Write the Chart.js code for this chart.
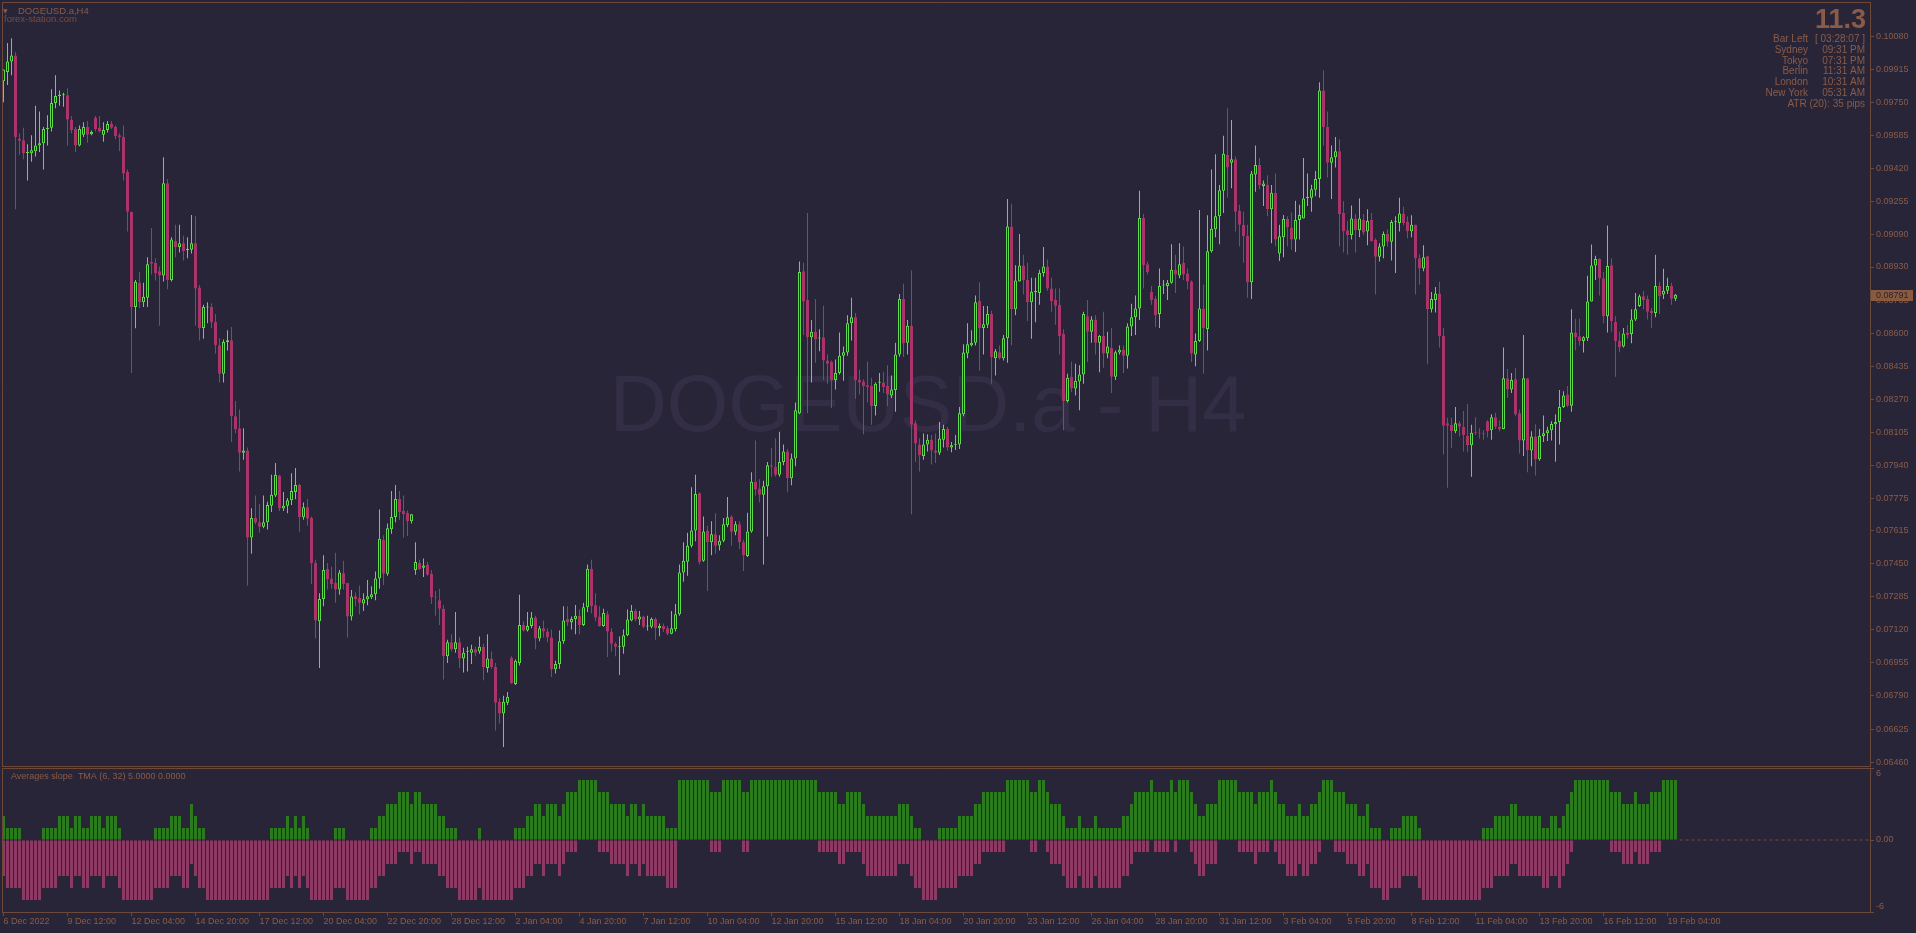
<!DOCTYPE html>
<html><head><meta charset="utf-8">
<script src="https://cdn.jsdelivr.net/npm/chart.js@4/dist/chart.umd.min.js"></script>
<style>
html,body{margin:0;padding:0;background:#292538;overflow:hidden;width:1916px;height:933px}
#main{position:absolute;left:0;top:0;width:1916px;height:767px}
#sub{position:absolute;left:0;top:767px;width:1916px;height:166px}
</style></head><body>
<div id="main"><canvas id="c1"></canvas></div>
<div id="sub"><canvas id="c2"></canvas></div>
<script>
// ---- data (DOGEUSD.a H4) ----
const open = [0.09857,0.09903,0.09955,0.09985,0.09571,0.09562,0.09499,0.09497,0.09508,0.09536,
0.09548,0.09618,0.09625,0.09748,0.09783,0.09787,0.09787,0.09664,0.09618,0.09536,
0.09590,0.09629,0.09592,0.09676,0.09625,0.09590,0.09613,0.09643,0.09629,0.09587,
0.09578,0.09404,0.09206,0.08730,0.08851,0.08754,0.08777,0.08956,0.08951,0.08909,
0.08888,0.09348,0.08865,0.09060,0.09030,0.09049,0.09014,0.09016,0.09049,0.08828,
0.08626,0.08728,0.08730,0.08656,0.08540,0.08398,0.08556,0.08565,0.08185,0.08126,
0.08003,0.08015,0.07581,0.07678,0.07657,0.07634,0.07657,0.07739,0.07790,0.07890,
0.07725,0.07739,0.07766,0.07808,0.07843,0.07681,0.07732,0.07678,0.07453,0.07163,
0.07274,0.07423,0.07376,0.07353,0.07321,0.07402,0.07353,0.07186,0.07288,0.07279,
0.07251,0.07272,0.07283,0.07297,0.07376,0.07569,0.07400,0.07622,0.07683,0.07773,
0.07713,0.07704,0.07662,0.07418,0.07453,0.07430,0.07446,0.07400,0.07285,0.07267,
0.07225,0.06988,0.07058,0.07023,0.07058,0.06977,0.07010,0.07005,0.07023,0.07012,
0.07035,0.06930,0.06977,0.06935,0.06761,0.06703,0.06756,0.06981,0.06849,0.06954,
0.07144,0.07116,0.07139,0.07181,0.07077,0.07128,0.07111,0.07081,0.06923,0.06949,
0.07063,0.07174,0.07158,0.07174,0.07190,0.07144,0.07232,0.07425,0.07242,0.07186,
0.07139,0.07197,0.07111,0.07051,0.07033,0.07035,0.07093,0.07167,0.07214,0.07172,
0.07186,0.07137,0.07135,0.07174,0.07128,0.07139,0.07128,0.07100,0.07123,0.07197,
0.07406,0.07460,0.07539,0.07615,0.07801,0.07465,0.07615,0.07557,0.07597,0.07541,
0.07564,0.07643,0.07685,0.07609,0.07646,0.07557,0.07488,0.07611,0.07859,0.07825,
0.07794,0.07836,0.07941,0.07934,0.07894,0.07957,0.08010,0.07876,0.07975,0.08201,
0.08909,0.08765,0.08579,0.08607,0.08573,0.08579,0.08463,0.08456,0.08366,0.08401,
0.08487,0.08503,0.08649,0.08679,0.08366,0.08359,0.08340,0.08336,0.08236,0.08352,
0.08354,0.08336,0.08289,0.08317,0.08494,0.08770,0.08552,0.08637,0.08150,0.08045,
0.07987,0.08045,0.08068,0.08015,0.08003,0.08068,0.08122,0.08029,0.08043,0.08045,
0.08196,0.08498,0.08540,0.08552,0.08761,0.08626,0.08642,0.08696,0.08475,0.08505,
0.08475,0.08575,0.09132,0.08719,0.08858,0.08937,0.08865,0.08754,0.08805,0.08800,
0.08900,0.08932,0.08823,0.08765,0.08742,0.08596,0.08261,0.08382,0.08324,0.08359,
0.08394,0.08684,0.08607,0.08668,0.08552,0.08586,0.08498,0.08526,0.08382,0.08503,
0.08519,0.08487,0.08633,0.08679,0.08723,0.09174,0.08944,0.08805,0.08770,0.08696,
0.08838,0.08835,0.08851,0.08916,0.08888,0.08951,0.08898,0.08858,0.08494,0.08561,
0.08723,0.08621,0.09009,0.09118,0.09183,0.09311,0.09490,0.09450,0.09467,0.09211,
0.09141,0.09086,0.08854,0.09392,0.09439,0.09334,0.09341,0.09218,0.09300,0.08997,
0.09079,0.09169,0.09125,0.09067,0.09165,0.09172,0.09274,0.09276,0.09316,0.09369,
0.09810,0.09629,0.09450,0.09478,0.09508,0.09200,0.09114,0.09090,0.09172,0.09114,
0.09165,0.09107,0.09165,0.09065,0.08981,0.09032,0.09095,0.09056,0.09153,0.09149,
0.09197,0.09155,0.09109,0.09141,0.08974,0.08923,0.08984,0.08719,0.08765,0.08798,
0.08586,0.08150,0.08143,0.08110,0.08150,0.08133,0.08087,0.08041,0.08105,0.08103,
0.08101,0.08161,0.08115,0.08180,0.08133,0.08122,0.08375,0.08319,0.08370,0.08201,
0.08064,0.08375,0.08015,0.08085,0.07971,0.08087,0.08101,0.08115,0.08145,0.08157,
0.08231,0.08294,0.08238,0.08603,0.08584,0.08561,0.08575,0.08758,0.08937,0.08970,
0.08874,0.08684,0.08939,0.08656,0.08561,0.08533,0.08603,0.08596,0.08668,0.08735,
0.08784,0.08770,0.08712,0.08700,0.08835,0.08793,0.08812,0.08835,0.08772];

const high = [0.09915,0.10047,0.10071,0.10001,0.09597,0.09625,0.09543,0.09587,0.09734,0.09706,
0.09629,0.09687,0.09817,0.09887,0.09810,0.09799,0.09822,0.09683,0.09629,0.09636,
0.09652,0.09659,0.09611,0.09683,0.09683,0.09652,0.09659,0.09659,0.09636,0.09597,
0.09636,0.09416,0.09206,0.08865,0.08905,0.08851,0.08979,0.09125,0.08974,0.08932,
0.09478,0.09369,0.09079,0.09141,0.09141,0.09086,0.09079,0.09190,0.09183,0.08840,
0.08742,0.08754,0.08749,0.08696,0.08575,0.08568,0.08614,0.08631,0.08261,0.08219,
0.08126,0.08029,0.07727,0.07790,0.07748,0.07790,0.07759,0.07894,0.07952,0.07894,
0.07808,0.07778,0.07901,0.07927,0.07848,0.07755,0.07773,0.07685,0.07469,0.07302,
0.07492,0.07453,0.07434,0.07504,0.07418,0.07465,0.07353,0.07318,0.07306,0.07341,
0.07302,0.07369,0.07337,0.07411,0.07720,0.07592,0.07650,0.07813,0.07843,0.07813,
0.07790,0.07715,0.07697,0.07557,0.07469,0.07476,0.07458,0.07418,0.07314,0.07325,
0.07244,0.07070,0.07098,0.07209,0.07081,0.07030,0.07035,0.07046,0.07035,0.07086,
0.07051,0.07098,0.07012,0.06954,0.06779,0.06791,0.06810,0.06988,0.06972,0.07295,
0.07163,0.07209,0.07209,0.07190,0.07139,0.07167,0.07128,0.07121,0.06965,0.07116,
0.07237,0.07237,0.07186,0.07244,0.07221,0.07255,0.07446,0.07469,0.07302,0.07237,
0.07225,0.07214,0.07128,0.07058,0.07086,0.07121,0.07221,0.07244,0.07225,0.07214,
0.07190,0.07190,0.07181,0.07181,0.07151,0.07151,0.07139,0.07214,0.07249,0.07446,
0.07557,0.07604,0.07831,0.07894,0.07806,0.07685,0.07639,0.07662,0.07701,0.07592,
0.07678,0.07783,0.07690,0.07662,0.07662,0.07569,0.07704,0.07906,0.08064,0.07871,
0.07864,0.07957,0.08027,0.08075,0.08108,0.08045,0.08022,0.07999,0.08254,0.08958,
0.08951,0.09200,0.08665,0.08770,0.08619,0.08737,0.08494,0.08463,0.08468,0.08603,
0.08533,0.08689,0.08777,0.08700,0.08417,0.08370,0.08459,0.08377,0.08354,0.08401,
0.08405,0.08440,0.08389,0.08552,0.08795,0.08847,0.08665,0.08912,0.08166,0.08075,
0.08099,0.08096,0.08092,0.08099,0.08157,0.08143,0.08133,0.08057,0.08092,0.08231,
0.08545,0.08649,0.08614,0.08788,0.08854,0.08735,0.08735,0.08712,0.08521,0.08538,
0.08591,0.09269,0.09246,0.08939,0.09095,0.08991,0.08951,0.08877,0.08877,0.08916,
0.09030,0.08967,0.08877,0.08823,0.08823,0.08619,0.08398,0.08459,0.08447,0.08440,
0.08707,0.08765,0.08684,0.08691,0.08591,0.08707,0.08607,0.08626,0.08514,0.08538,
0.08538,0.08649,0.08747,0.08788,0.09311,0.09195,0.08956,0.08835,0.08784,0.08923,
0.08865,0.08865,0.09044,0.08991,0.09049,0.09032,0.08923,0.08863,0.08598,0.09214,
0.08842,0.09188,0.09416,0.09492,0.09339,0.09585,0.09722,0.09664,0.09481,0.09241,
0.09206,0.09141,0.09409,0.09536,0.09474,0.09362,0.09388,0.09339,0.09397,0.09141,
0.09190,0.09183,0.09202,0.09260,0.09241,0.09474,0.09397,0.09341,0.09409,0.09852,
0.09910,0.09706,0.09536,0.09578,0.09567,0.09258,0.09160,0.09237,0.09195,0.09272,
0.09195,0.09218,0.09200,0.09074,0.09049,0.09107,0.09118,0.09165,0.09183,0.09276,
0.09230,0.09183,0.09188,0.09141,0.08993,0.09039,0.08986,0.08805,0.08830,0.08856,
0.08626,0.08178,0.08178,0.08231,0.08161,0.08212,0.08247,0.08143,0.08180,0.08126,
0.08115,0.08166,0.08196,0.08203,0.08166,0.08528,0.08421,0.08401,0.08426,0.08219,
0.08591,0.08375,0.08110,0.08145,0.08122,0.08189,0.08133,0.08161,0.08196,0.08317,
0.08310,0.08336,0.08719,0.08672,0.08672,0.08584,0.08886,0.09042,0.08986,0.08974,
0.08905,0.09137,0.08974,0.08684,0.08607,0.08626,0.08642,0.08719,0.08800,0.08793,
0.08812,0.08788,0.08726,0.08991,0.08854,0.08921,0.08877,0.08851,0.08795];

const low = [0.09752,0.09838,0.09887,0.09218,0.09490,0.09467,0.09362,0.09455,0.09481,0.09504,
0.09416,0.09536,0.09606,0.09722,0.09734,0.09729,0.09536,0.09597,0.09504,0.09532,
0.09578,0.09550,0.09587,0.09606,0.09601,0.09555,0.09601,0.09618,0.09567,0.09508,
0.09362,0.09107,0.08401,0.08624,0.08726,0.08730,0.08730,0.08893,0.08863,0.08637,
0.08858,0.08819,0.08858,0.08979,0.09002,0.08963,0.08974,0.08997,0.08637,0.08563,
0.08572,0.08649,0.08626,0.08498,0.08354,0.08354,0.08514,0.08057,0.08101,0.07910,
0.07968,0.07341,0.07499,0.07646,0.07604,0.07627,0.07620,0.07708,0.07783,0.07713,
0.07713,0.07701,0.07743,0.07771,0.07609,0.07669,0.07639,0.07348,0.07077,0.06930,
0.07237,0.07321,0.07325,0.07255,0.07295,0.07321,0.07081,0.07167,0.07237,0.07197,
0.07214,0.07242,0.07274,0.07267,0.07325,0.07344,0.07390,0.07599,0.07657,0.07669,
0.07581,0.07588,0.07650,0.07395,0.07418,0.07383,0.07390,0.07249,0.07190,0.07144,
0.06872,0.06954,0.07012,0.07005,0.06930,0.06907,0.06912,0.06949,0.06988,0.07000,
0.06868,0.06907,0.06926,0.06617,0.06652,0.06535,0.06745,0.06849,0.06844,0.06942,
0.07111,0.07111,0.07128,0.07023,0.07063,0.07081,0.07058,0.06884,0.06902,0.06926,
0.07051,0.07139,0.07121,0.07098,0.07098,0.07139,0.07209,0.07202,0.07163,0.07135,
0.07135,0.06984,0.07012,0.06988,0.06895,0.07000,0.07088,0.07163,0.07163,0.07144,
0.07128,0.07116,0.07128,0.07070,0.07088,0.07109,0.07093,0.07098,0.07111,0.07190,
0.07360,0.07390,0.07530,0.07562,0.07446,0.07460,0.07314,0.07492,0.07499,0.07516,
0.07557,0.07632,0.07541,0.07592,0.07523,0.07413,0.07483,0.07604,0.07790,0.07755,
0.07446,0.07585,0.07883,0.07883,0.07883,0.07941,0.07806,0.07841,0.07936,0.08196,
0.08591,0.08201,0.08354,0.08452,0.08510,0.08366,0.08347,0.08226,0.08319,0.08394,
0.08363,0.08487,0.08563,0.08273,0.08294,0.08096,0.08254,0.08143,0.08189,0.08308,
0.08301,0.08236,0.08277,0.08208,0.08482,0.08482,0.08494,0.07697,0.07957,0.07910,
0.07968,0.08010,0.07945,0.07952,0.07992,0.08029,0.08015,0.08006,0.08017,0.08022,
0.08185,0.08475,0.08533,0.08538,0.08412,0.08494,0.08626,0.08347,0.08389,0.08468,
0.08463,0.08452,0.08540,0.08689,0.08858,0.08793,0.08661,0.08572,0.08654,0.08742,
0.08881,0.08812,0.08707,0.08642,0.08494,0.08115,0.08254,0.08305,0.08289,0.08215,
0.08347,0.08456,0.08552,0.08494,0.08405,0.08428,0.08475,0.08301,0.08366,0.08494,
0.08401,0.08424,0.08586,0.08591,0.08665,0.08823,0.08893,0.08742,0.08631,0.08626,
0.08795,0.08765,0.08847,0.08800,0.08874,0.08865,0.08819,0.08456,0.08435,0.08556,
0.08398,0.08514,0.09002,0.09079,0.09044,0.09200,0.09276,0.09323,0.09107,0.09032,
0.08951,0.08777,0.08770,0.09306,0.09318,0.09234,0.09183,0.09049,0.09032,0.08960,
0.08979,0.09032,0.09016,0.09005,0.09067,0.09172,0.09234,0.09206,0.09283,0.09276,
0.09536,0.09376,0.09269,0.09427,0.09032,0.09002,0.08991,0.09067,0.09002,0.09079,
0.09090,0.09039,0.09056,0.08793,0.08958,0.08974,0.09032,0.08963,0.08900,0.09107,
0.09137,0.09074,0.09079,0.08793,0.08842,0.08909,0.08445,0.08703,0.08703,0.08528,
0.07994,0.07829,0.08027,0.08101,0.08085,0.08010,0.08006,0.07883,0.08092,0.08075,
0.08068,0.08080,0.08068,0.08122,0.08110,0.08120,0.08277,0.08301,0.08185,0.07999,
0.07987,0.07906,0.07936,0.07890,0.07964,0.08057,0.08062,0.08064,0.07959,0.08045,
0.08226,0.08231,0.08208,0.08514,0.08538,0.08503,0.08561,0.08758,0.08865,0.08788,
0.08649,0.08603,0.08607,0.08382,0.08505,0.08528,0.08572,0.08549,0.08661,0.08730,
0.08719,0.08668,0.08626,0.08679,0.08696,0.08770,0.08795,0.08742,0.08760];

const close = [0.09915,0.09955,0.09985,0.09578,0.09560,0.09497,0.09504,0.09513,0.09536,0.09548,
0.09618,0.09625,0.09748,0.09783,0.09790,0.09790,0.09666,0.09613,0.09536,0.09618,
0.09629,0.09590,0.09604,0.09618,0.09606,0.09613,0.09643,0.09625,0.09583,0.09578,
0.09397,0.09206,0.08730,0.08856,0.08754,0.08781,0.08944,0.08946,0.08900,0.08888,
0.09348,0.08865,0.09067,0.09028,0.09049,0.09009,0.09021,0.09049,0.08823,0.08626,
0.08730,0.08733,0.08656,0.08540,0.08398,0.08556,0.08565,0.08185,0.08120,0.08003,
0.08015,0.07581,0.07678,0.07655,0.07634,0.07657,0.07743,0.07794,0.07894,0.07725,
0.07739,0.07766,0.07813,0.07843,0.07681,0.07732,0.07674,0.07453,0.07167,0.07274,
0.07418,0.07372,0.07348,0.07321,0.07406,0.07348,0.07186,0.07286,0.07274,0.07255,
0.07272,0.07288,0.07297,0.07376,0.07574,0.07400,0.07627,0.07683,0.07773,0.07708,
0.07697,0.07662,0.07697,0.07458,0.07423,0.07441,0.07395,0.07283,0.07281,0.07225,
0.06988,0.07058,0.07023,0.07058,0.06977,0.07005,0.07014,0.07023,0.07005,0.07035,
0.06935,0.06977,0.06935,0.06756,0.06703,0.06761,0.06786,0.06854,0.06965,0.07144,
0.07116,0.07139,0.07181,0.07077,0.07128,0.07111,0.07081,0.06923,0.06949,0.07063,
0.07167,0.07156,0.07174,0.07190,0.07144,0.07232,0.07425,0.07237,0.07181,0.07139,
0.07204,0.07111,0.07051,0.07035,0.07037,0.07093,0.07172,0.07214,0.07174,0.07186,
0.07135,0.07141,0.07174,0.07128,0.07139,0.07123,0.07100,0.07128,0.07197,0.07406,
0.07465,0.07539,0.07615,0.07797,0.07458,0.07611,0.07557,0.07597,0.07539,0.07564,
0.07646,0.07681,0.07609,0.07646,0.07557,0.07492,0.07611,0.07859,0.07820,0.07794,
0.07836,0.07941,0.07934,0.07894,0.07957,0.08010,0.07876,0.07975,0.08215,0.08905,
0.08758,0.08579,0.08607,0.08568,0.08577,0.08463,0.08447,0.08366,0.08401,0.08487,
0.08505,0.08649,0.08679,0.08366,0.08354,0.08336,0.08331,0.08236,0.08347,0.08356,
0.08331,0.08294,0.08319,0.08494,0.08770,0.08549,0.08637,0.08143,0.08050,0.07992,
0.08045,0.08068,0.08015,0.08003,0.08075,0.08122,0.08029,0.08041,0.08047,0.08201,
0.08503,0.08545,0.08552,0.08754,0.08626,0.08644,0.08696,0.08480,0.08510,0.08475,
0.08575,0.09132,0.08719,0.08863,0.08937,0.08865,0.08754,0.08807,0.08809,0.08900,
0.08932,0.08823,0.08761,0.08737,0.08586,0.08261,0.08377,0.08324,0.08363,0.08394,
0.08696,0.08607,0.08668,0.08552,0.08586,0.08498,0.08533,0.08382,0.08505,0.08517,
0.08487,0.08633,0.08679,0.08723,0.09174,0.08939,0.08905,0.08765,0.08691,0.08835,
0.08842,0.08851,0.08916,0.08893,0.08944,0.08893,0.08858,0.08498,0.08561,0.08723,
0.08626,0.09009,0.09121,0.09183,0.09313,0.09495,0.09427,0.09467,0.09206,0.09141,
0.09083,0.08854,0.09397,0.09439,0.09339,0.09346,0.09218,0.09300,0.09067,0.09083,
0.09169,0.09130,0.09067,0.09165,0.09190,0.09272,0.09278,0.09318,0.09369,0.09810,
0.09629,0.09450,0.09478,0.09508,0.09195,0.09109,0.09090,0.09172,0.09114,0.09172,
0.09102,0.09160,0.09060,0.08981,0.09032,0.09095,0.09056,0.09155,0.09157,0.09197,
0.09149,0.09109,0.09141,0.08974,0.08923,0.08979,0.08719,0.08770,0.08798,0.08586,
0.08138,0.08138,0.08110,0.08150,0.08133,0.08092,0.08041,0.08103,0.08101,0.08099,
0.08096,0.08110,0.08180,0.08133,0.08122,0.08375,0.08319,0.08366,0.08196,0.08064,
0.08375,0.08017,0.08085,0.07971,0.08087,0.08101,0.08115,0.08147,0.08157,0.08231,
0.08289,0.08238,0.08603,0.08579,0.08561,0.08579,0.08758,0.08937,0.08970,0.08874,
0.08684,0.08935,0.08661,0.08561,0.08528,0.08598,0.08591,0.08668,0.08719,0.08784,
0.08765,0.08707,0.08700,0.08835,0.08784,0.08812,0.08835,0.08772,0.08791];

// "Averages slope TMA (6,32)" histogram: up (green) and down (pink) counts
const slopeUp = [2,1,1,1,1,0,0,0,0,0, 1,1,1,1,2,2,2,1,2,2, 1,1,2,2,2,1,2,2,2,1, 0,0,0,0,0,0,0,0,1,1,
1,1,2,2,2,1,1,3,2,1, 1,0,0,0,0,0,0,0,0,0, 0,0,0,0,0,0,0,1,1,1, 1,2,1,2,1,2,1,0,0,0,
0,0,0,1,1,1,0,0,0,0, 0,0,1,1,2,2,3,3,3,4, 4,4,3,4,4,3,3,3,3,2, 2,1,1,1,0,0,0,0,0,1,
0,0,0,0,0,0,0,0,1,1, 1,2,2,3,3,2,3,3,3,2, 3,4,4,4,5,5,5,5,5,4, 4,4,3,3,3,3,2,3,3,2,
3,2,2,2,2,2,1,1,1,5, 5,5,5,5,5,5,5,4,4,4, 5,5,5,5,5,4,4,5,5,5, 5,5,5,5,5,5,5,5,5,5,
5,5,5,5,4,4,4,4,4,3, 3,4,4,4,4,3,2,2,2,2, 2,2,2,2,3,3,3,2,1,1, 0,0,0,0,1,1,1,1,1,2,
2,2,2,3,3,4,4,4,4,4, 4,5,5,5,5,5,5,4,4,5, 5,4,3,3,3,2,1,1,1,2, 1,1,1,2,1,1,1,1,1,1,
2,2,3,4,4,4,4,5,4,4, 4,4,5,4,5,5,5,4,3,2, 2,3,3,3,5,5,5,5,5,4, 4,4,4,3,4,4,4,5,4,3,
3,2,2,2,3,2,2,3,3,4, 5,5,5,4,4,4,3,3,3,2, 2,3,1,1,1,0,0,1,1,1, 2,2,2,2,1,0,0,0,0,0,
0,0,0,0,0,0,0,0,0,0, 1,1,1,2,2,2,2,3,3,2, 2,2,2,2,2,1,1,2,2,1, 2,3,4,5,5,5,5,5,5,5,
5,5,4,4,4,3,3,3,4,3, 3,3,4,4,4,5,5,5,5];
const slopeDown = [-3,-4,-4,-4,-4,-5,-5,-5,-5,-5, -4,-4,-4,-4,-3,-3,-3,-4,-3,-3, -4,-4,-3,-3,-3,-4,-3,-3,-3,-4, -5,-5,-5,-5,-5,-5,-5,-5,-4,-4,
-4,-4,-3,-3,-3,-4,-4,-2,-3,-4, -4,-5,-5,-5,-5,-5,-5,-5,-5,-5, -5,-5,-5,-5,-5,-5,-5,-4,-4,-4, -4,-3,-4,-3,-4,-3,-4,-5,-5,-5,
-5,-5,-5,-4,-4,-4,-5,-5,-5,-5, -5,-5,-4,-4,-3,-3,-2,-2,-2,-1, -1,-1,-2,-1,-1,-2,-2,-2,-2,-3, -3,-4,-4,-4,-5,-5,-5,-5,-5,-4,
-5,-5,-5,-5,-5,-5,-5,-5,-4,-4, -4,-3,-3,-2,-2,-3,-2,-2,-2,-3, -2,-1,-1,-1,0,0,0,0,0,-1, -1,-1,-2,-2,-2,-2,-3,-2,-2,-3,
-2,-3,-3,-3,-3,-3,-4,-4,-4,0, 0,0,0,0,0,0,0,-1,-1,-1, 0,0,0,0,0,-1,-1,0,0,0, 0,0,0,0,0,0,0,0,0,0,
0,0,0,0,-1,-1,-1,-1,-1,-2, -2,-1,-1,-1,-1,-2,-3,-3,-3,-3, -3,-3,-3,-3,-2,-2,-2,-3,-4,-4, -5,-5,-5,-5,-4,-4,-4,-4,-4,-3,
-3,-3,-3,-2,-2,-1,-1,-1,-1,-1, -1,0,0,0,0,0,0,-1,-1,0, 0,-1,-2,-2,-2,-3,-4,-4,-4,-3, -4,-4,-4,-3,-4,-4,-4,-4,-4,-4,
-3,-3,-2,-1,-1,-1,-1,0,-1,-1, -1,-1,0,-1,0,0,0,-1,-2,-3, -3,-2,-2,-2,0,0,0,0,0,-1, -1,-1,-1,-2,-1,-1,-1,0,-1,-2,
-2,-3,-3,-3,-2,-3,-3,-2,-2,-1, 0,0,0,-1,-1,-1,-2,-2,-2,-3, -3,-2,-4,-4,-4,-5,-5,-4,-4,-4, -3,-3,-3,-3,-4,-5,-5,-5,-5,-5,
-5,-5,-5,-5,-5,-5,-5,-5,-5,-5, -4,-4,-4,-3,-3,-3,-3,-2,-2,-3, -3,-3,-3,-3,-3,-4,-4,-3,-3,-4, -3,-2,-1,0,0,0,0,0,0,0,
0,0,-1,-1,-1,-2,-2,-2,-1,-2, -2,-2,-1,-1,-1,0,0,0,0];

// time axis labels, one every 16 bars
const timeLabels = ['6 Dec 2022','9 Dec 12:00','12 Dec 04:00','14 Dec 20:00','17 Dec 12:00','20 Dec 04:00','22 Dec 20:00',
'28 Dec 12:00','2 Jan 04:00','4 Jan 20:00','7 Jan 12:00','10 Jan 04:00','12 Jan 20:00','15 Jan 12:00','18 Jan 04:00',
'20 Jan 20:00','23 Jan 12:00','26 Jan 04:00','28 Jan 20:00','31 Jan 12:00','3 Feb 04:00','5 Feb 20:00','8 Feb 12:00',
'11 Feb 04:00','13 Feb 20:00','16 Feb 12:00','19 Feb 04:00'];
const labelStep = 16;
const priceTicks = [0.10080,0.09915,0.09750,0.09585,0.09420,0.09255,0.09090,0.08930,0.08765,0.08600,0.08435,0.08270,
0.08105,0.07940,0.07775,0.07615,0.07450,0.07285,0.07120,0.06955,0.06790,0.06625,0.06460];
const slopeTicks = [6, 0, -6];
const slopeTickText = ['6', '0.00', '-6'];

// texts
const chartTitle = 'DOGEUSD.a,H4';
const chartSubtitle = 'forex-station.com';
const watermarkText = 'DOGEUSD.a - H4';
const spreadText = '11.3';
const infoLabels = ['Bar Left','Sydney','Tokyo','Berlin','London','New York'];
const infoValues = ['[ 03:28:07 ]','09:31 PM','07:31 PM','11:31 AM','10:31 AM','05:31 AM'];
const atrText = 'ATR (20): 35 pips';
const indicatorTitle = 'Averages slope  TMA (6, 32) 5.0000 0.0000';

// ---- style ----
const BG = '#292538', TXT = '#8a5c48', FRAME = '#6e4838', WATER = '#332e46';
const BULL = '#5edb4b', BEAR = '#aa346a', HUP = '#2b7a1e', HDN = '#8c3963';
const FONT = 'Liberation Sans';
Chart.defaults.font.family = FONT;
Chart.defaults.font.size = 9;
Chart.defaults.color = TXT;

const XMIN = -0.375, XMAX = XMIN + 1868 / 4;
const PPU = 20044; // px per price unit
const YMAX = 0.1008 + 34.5 / PPU, YMIN = YMAX - 764 / PPU;

const idx = close.map((_, i) => i);
const bull = i => close[i] >= open[i];

const mainDecor = {
  id: 'mainDecor',
  beforeDatasetsDraw(chart) {
    const ctx = chart.ctx;
    ctx.save();
    ctx.font = '79px "' + FONT + '"';
    ctx.fillStyle = WATER; ctx.textAlign = 'center'; ctx.textBaseline = 'middle';
    ctx.fillText(watermarkText, 928, 409);
    ctx.restore();
  },
  afterDraw(chart) {
    const ctx = chart.ctx, a = chart.chartArea;
    ctx.save();
    ctx.strokeStyle = FRAME; ctx.lineWidth = 1;
    ctx.beginPath();
    ctx.moveTo(2.5, a.bottom + 0.5); ctx.lineTo(2.5, 2.5); ctx.lineTo(a.right, 2.5);
    ctx.moveTo(2, a.bottom + 0.5); ctx.lineTo(a.right, a.bottom + 0.5);
    ctx.stroke();
    // title
    ctx.fillStyle = TXT; ctx.textBaseline = 'middle'; ctx.textAlign = 'left';
    ctx.font = '6px "DejaVu Sans"';
    ctx.fillText('\u25BC', 3, 11);
    ctx.font = '9.5px "' + FONT + '"';
    ctx.fillText(chartTitle, 18, 11);
    ctx.fillStyle = '#7a4b40';
    ctx.fillText(chartSubtitle, 4, 19);
    // info block
    ctx.fillStyle = TXT; ctx.textAlign = 'right';
    ctx.font = 'bold 27px "' + FONT + '"';
    ctx.textBaseline = 'alphabetic';
    ctx.fillText(spreadText, 1866, 28);
    ctx.textBaseline = 'middle';
    ctx.font = '10px "' + FONT + '"';
    const rows = [39, 50, 61, 71.7, 82.3, 93.3];
    infoLabels.forEach((t, k) => ctx.fillText(t, 1808, rows[k]));
    infoValues.forEach((t, k) => ctx.fillText(t, 1865, rows[k]));
    ctx.fillText(atrText, 1865, 104.5);
    // current price box
    const y = chart.scales.y.getPixelForValue(close[close.length - 1]);
    ctx.fillStyle = '#8a5a3e';
    ctx.fillRect(1871, Math.round(y) - 5, 42, 11);
    ctx.fillStyle = '#2b2330'; ctx.textAlign = 'left';
    ctx.font = '9px "' + FONT + '"';
    ctx.fillText(close[close.length - 1].toFixed(5), 1876, Math.round(y) + 0.5);
    ctx.restore();
  }
};

new Chart(document.getElementById('c1'), {
  type: 'bar',
  data: {
    datasets: [
      { label: 'wick', data: idx.map(i => ({ x: i, y: [low[i], high[i]] })), barThickness: 1, grouped: false,
        backgroundColor: c => bull(c.dataIndex) ? BULL : BEAR, borderWidth: 0, inflateAmount: 0, order: 2 },
      { label: 'body', data: idx.map(i => ({ x: i, y: [open[i], close[i]] })), barThickness: 3, grouped: false,
        backgroundColor: c => bull(c.dataIndex) ? BG : BEAR, borderColor: c => bull(c.dataIndex) ? BULL : BEAR,
        borderWidth: 1, borderSkipped: false, minBarLength: 1, inflateAmount: 0, order: 1 }
    ]
  },
  options: {
    responsive: true, maintainAspectRatio: false, animation: false, events: [], devicePixelRatio: 1,
    layout: { padding: { left: 2, top: 2, right: 0, bottom: 1 } },
    plugins: { legend: { display: false }, tooltip: { enabled: false } },
    scales: {
      x: { type: 'linear', min: XMIN, max: XMAX, display: false, offset: false, grid: { offset: false } },
      y: {
        position: 'right', min: YMIN, max: YMAX,
        afterFit: s => { s.width = 46; s.paddingTop = 0; s.paddingBottom = 0; },
        afterBuildTicks: s => { s.ticks = priceTicks.map(v => ({ value: v })); },
        ticks: { callback: v => Number(v).toFixed(5), color: TXT, font: { size: 9 }, padding: 2, autoSkip: false },
        grid: { drawOnChartArea: false, tickLength: 4, color: FRAME, tickColor: FRAME },
        border: { color: FRAME }
      }
    }
  },
  plugins: [mainDecor]
});

const subDecor = {
  id: 'subDecor',
  afterDraw(chart) {
    const ctx = chart.ctx, a = chart.chartArea;
    ctx.save();
    ctx.strokeStyle = FRAME; ctx.lineWidth = 1;
    ctx.beginPath();
    ctx.moveTo(2.5, a.bottom); ctx.lineTo(2.5, a.top + 0.5); ctx.lineTo(a.right, a.top + 0.5);
    ctx.stroke();
    ctx.fillStyle = TXT; ctx.font = '9px "' + FONT + '"'; ctx.textBaseline = 'middle'; ctx.textAlign = 'left';
    ctx.fillText(indicatorTitle, 11, 10);
    ctx.restore();
  }
};

new Chart(document.getElementById('c2'), {
  type: 'bar',
  data: {
    datasets: [
      { data: idx.map(i => ({ x: i, y: slopeUp[i] })), backgroundColor: HUP, barThickness: 3, grouped: false, borderWidth: 0, inflateAmount: 0 },
      { data: idx.map(i => ({ x: i, y: slopeDown[i] })), backgroundColor: HDN, barThickness: 3, grouped: false, borderWidth: 0, inflateAmount: 0 },
      { type: 'line', data: [{ x: close.length, y: 0 }, { x: XMAX, y: 0 }], borderColor: FRAME, borderWidth: 1,
        borderDash: [3, 3], pointRadius: 0, fill: false }
    ]
  },
  options: {
    responsive: true, maintainAspectRatio: false, animation: false, events: [], devicePixelRatio: 1,
    layout: { padding: { left: 2, top: 1, right: 0, bottom: 0 } },
    plugins: { legend: { display: false }, tooltip: { enabled: false } },
    scales: {
      x: {
        type: 'linear', min: XMIN, max: XMAX, offset: false,
        afterFit: s => { s.height = 21; s.paddingLeft = 0; s.paddingRight = 0; },
        afterBuildTicks: s => { s.ticks = timeLabels.map((_, k) => ({ value: k * labelStep })); },
        ticks: { callback: v => timeLabels[Math.round(v / labelStep)], align: 'start', maxRotation: 0, minRotation: 0,
          autoSkip: false, color: TXT, font: { size: 9 }, padding: 0 },
        grid: { drawOnChartArea: false, tickLength: 4, color: FRAME, tickColor: FRAME, offset: false },
        border: { color: FRAME }
      },
      y: {
        position: 'right', min: -6, max: 6,
        afterFit: s => { s.width = 46; s.paddingTop = 0; s.paddingBottom = 0; },
        afterBuildTicks: s => { s.ticks = slopeTicks.map(v => ({ value: v })); },
        ticks: { callback: v => { const k = slopeTicks.indexOf(v); const t = slopeTickText[k];
            return k === 0 ? ['', t] : (k === 2 ? [t, ''] : t); },
          color: TXT, font: { size: 9 }, padding: 2, autoSkip: false },
        grid: { drawOnChartArea: false, tickLength: 4, color: FRAME, tickColor: FRAME },
        border: { color: FRAME }
      }
    }
  },
  plugins: [subDecor]
});
</script>
</body></html>
